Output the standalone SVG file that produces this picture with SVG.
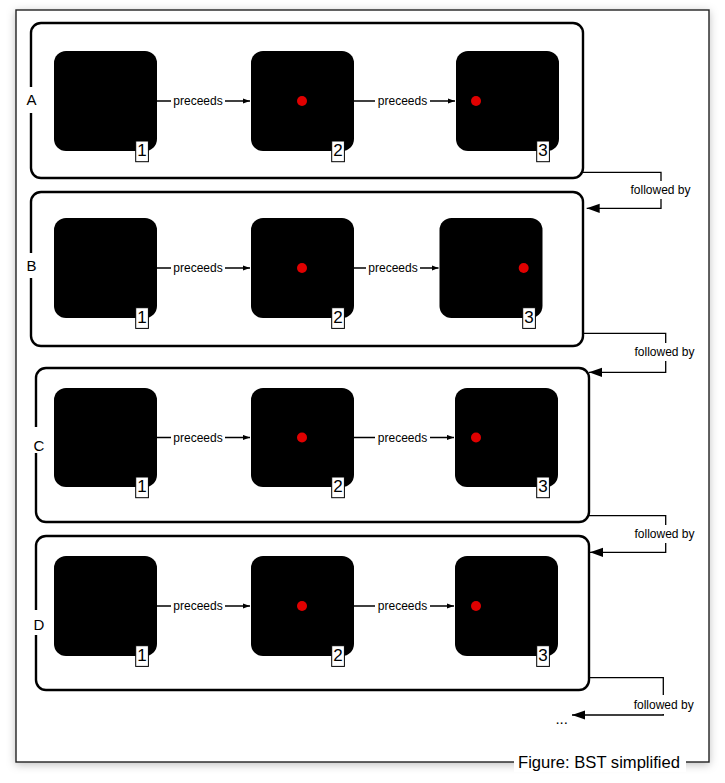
<svg xmlns="http://www.w3.org/2000/svg" width="725" height="783" viewBox="0 0 725 783">
<defs>
<style>
text{font-family:"Liberation Sans",Arial,Helvetica,sans-serif;fill:#000}
.outer{fill:#fff;stroke:#222;stroke-width:1.4}
.frame{fill:#fff;stroke:#000;stroke-width:2.4}
.box{fill:#000}
.dot{fill:#e00000}
.num rect{fill:#fff;stroke:#000;stroke-width:1}
.num text{font-size:17px;text-anchor:middle}
.flab rect,.clab rect{fill:#fff;stroke:none}
.flab text{font-size:15px;text-anchor:middle}
.clab text{font-size:12px;text-anchor:middle}
.pre{stroke:#000;stroke-width:1.3;fill:none;marker-end:url(#sa)}
.fol{stroke:#000;stroke-width:1.3;fill:none;marker-end:url(#ba)}
</style>
<marker id="sa" markerUnits="userSpaceOnUse" markerWidth="8" markerHeight="6" refX="7" refY="2.6" orient="auto"><path d="M0,0 L7,2.6 L0,5.2 z" fill="#000"/></marker>
<marker id="ba" markerUnits="userSpaceOnUse" markerWidth="14" markerHeight="10" refX="13" refY="4.6" orient="auto"><path d="M0,0 L13,4.6 L0,9.2 z" fill="#000"/></marker>
<filter id="sh" x="-5%" y="-5%" width="110%" height="110%"><feDropShadow dx="0" dy="2" stdDeviation="4" flood-color="#000" flood-opacity="0.25"/></filter>
</defs>
<rect width="725" height="783" fill="#fff"/>
<rect class="outer" x="16" y="10" width="693" height="752" filter="url(#sh)"/>

<g id="frame-A">
<rect class="frame" x="31" y="23" width="552" height="155" rx="10"/>
<g class="flab"><rect x="25" y="87" width="13" height="26"/><text x="31.5" y="105.2">A</text></g>
<g id="A1"><rect class="box" x="54" y="51" width="103" height="100" rx="12"/><g class="num"><rect x="135.7" y="141" width="12.7" height="20.7"/><text x="142" y="156">1</text></g></g>
<g id="A2"><rect class="box" x="251" y="51" width="103" height="100" rx="12"/><circle class="dot" cx="302" cy="101" r="5"/><g class="num"><rect x="331.7" y="141" width="12.7" height="20.7"/><text x="338" y="156">2</text></g></g>
<g id="A3"><rect class="box" x="456" y="51" width="103" height="100" rx="12"/><circle class="dot" cx="476" cy="101" r="5"/><g class="num"><rect x="536.7" y="141" width="12.7" height="20.7"/><text x="543" y="156">3</text></g></g>
</g>

<g id="frame-B">
<rect class="frame" x="31" y="192" width="552" height="154" rx="10"/>
<g class="flab"><rect x="25" y="253" width="13" height="25"/><text x="31.5" y="270.7">B</text></g>
<g id="B1"><rect class="box" x="54" y="218" width="103" height="100" rx="12"/><g class="num"><rect x="135.7" y="307.7" width="12.7" height="20.7"/><text x="142" y="322.7">1</text></g></g>
<g id="B2"><rect class="box" x="251" y="218" width="103" height="100" rx="12"/><circle class="dot" cx="302" cy="268" r="5"/><g class="num"><rect x="331.7" y="307.7" width="12.7" height="20.7"/><text x="338" y="322.7">2</text></g></g>
<g id="B3"><rect class="box" x="439.5" y="218" width="103" height="100" rx="12"/><circle class="dot" cx="523.7" cy="268" r="5"/><g class="num"><rect x="522.7" y="307.7" width="12.7" height="20.7"/><text x="529" y="322.7">3</text></g></g>
</g>

<g id="frame-C">
<rect class="frame" x="36" y="368" width="553" height="154" rx="10"/>
<g class="flab"><rect x="30" y="427" width="14" height="26"/><text x="39" y="451">C</text></g>
<g id="C1"><rect class="box" x="54" y="388" width="103" height="99" rx="12"/><g class="num"><rect x="135.7" y="477" width="12.7" height="20.7"/><text x="142" y="492">1</text></g></g>
<g id="C2"><rect class="box" x="251" y="388" width="103" height="99" rx="12"/><circle class="dot" cx="302" cy="437.5" r="5"/><g class="num"><rect x="331.7" y="477" width="12.7" height="20.7"/><text x="338" y="492">2</text></g></g>
<g id="C3"><rect class="box" x="455" y="388" width="103" height="99" rx="12"/><circle class="dot" cx="476" cy="437.5" r="5"/><g class="num"><rect x="536.7" y="477" width="12.7" height="20.7"/><text x="543" y="492">3</text></g></g>
</g>

<g id="frame-D">
<rect class="frame" x="36" y="536" width="553" height="154" rx="10"/>
<g class="flab"><rect x="30" y="610" width="14" height="25"/><text x="39" y="630">D</text></g>
<g id="D1"><rect class="box" x="54" y="556" width="103" height="100" rx="12"/><g class="num"><rect x="135.7" y="645.7" width="12.7" height="20.7"/><text x="142" y="660.7">1</text></g></g>
<g id="D2"><rect class="box" x="251" y="556" width="103" height="100" rx="12"/><circle class="dot" cx="302" cy="606" r="5"/><g class="num"><rect x="331.7" y="645.7" width="12.7" height="20.7"/><text x="338" y="660.7">2</text></g></g>
<g id="D3"><rect class="box" x="455" y="556" width="103" height="100" rx="12"/><circle class="dot" cx="476" cy="606" r="5"/><g class="num"><rect x="536.7" y="645.7" width="12.7" height="20.7"/><text x="543" y="660.7">3</text></g></g>
</g>

<g id="connectors">
<path class="pre" d="M157,101 H250"/>
<path class="pre" d="M354,101 H455"/>
<path class="pre" d="M157,268 H250"/>
<path class="pre" d="M354,268 H438.5"/>
<path class="pre" d="M157,437.5 H250"/>
<path class="pre" d="M354,437.5 H454"/>
<path class="pre" d="M157,606 H250"/>
<path class="pre" d="M354,606 H454"/>
<path class="fol" d="M583,172.3 H661 V208.3 H586.7"/>
<path class="fol" d="M583,333.3 H665.7 V372.3 H589"/>
<path class="fol" d="M589,515.7 H665.7 V552.3 H590"/>
<path class="fol" d="M590,677.7 H663.3 V715 H572"/>
<g class="clab">
<rect x="171" y="93" width="54" height="16"/><text x="198" y="105.3">preceeds</text>
<rect x="375" y="93" width="55" height="16"/><text x="402.5" y="105.3">preceeds</text>
<rect x="171" y="260" width="54" height="16"/><text x="198" y="272.3">preceeds</text>
<rect x="366" y="260" width="54" height="16"/><text x="393" y="272.3">preceeds</text>
<rect x="171" y="429.5" width="54" height="16"/><text x="198" y="441.8">preceeds</text>
<rect x="375" y="429.5" width="55" height="16"/><text x="402.5" y="441.8">preceeds</text>
<rect x="171" y="598" width="54" height="16"/><text x="198" y="610.3">preceeds</text>
<rect x="375" y="598" width="55" height="16"/><text x="402.5" y="610.3">preceeds</text>
<rect x="628" y="181" width="65" height="18"/><text x="660.5" y="194.3">followed by</text>
<rect x="632" y="343" width="65" height="18"/><text x="664.5" y="355.5">followed by</text>
<rect x="632" y="525" width="65" height="18"/><text x="664.5" y="538">followed by</text>
<rect x="631" y="695" width="65" height="19"/><text x="663.7" y="708.7">followed by</text>
</g>
<text x="561.7" y="724" font-size="15" text-anchor="middle">...</text>
</g>

<g id="caption">
<rect x="514" y="752" width="172" height="20" fill="#fff"/>
<text x="518" y="767.5" font-size="16.6">Figure: BST simplified</text>
</g>
</svg>
